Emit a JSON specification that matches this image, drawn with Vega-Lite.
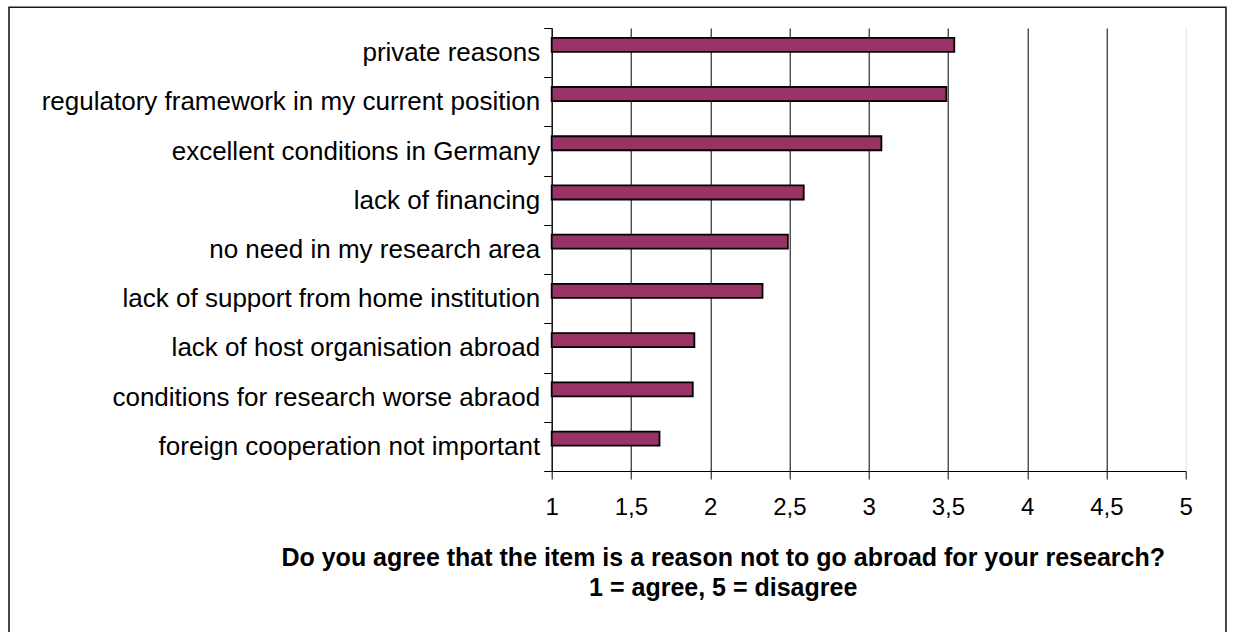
{
  "$schema": "https://vega.github.io/schema/vega-lite/v6.json",
  "autosize": {"type": "none"},
  "width": 634,
  "height": 443,
  "padding": {"left": 551.7, "top": 28, "right": 47.3, "bottom": 161},
  "background": "white",
  "config": {"view": {"stroke": null}, "font": "Liberation Sans"},
  "data": {
    "values": [
      {"item": "private reasons\u00a0", "score": 3.54},
      {"item": "regulatory framework in my current position", "score": 3.49},
      {"item": "excellent conditions in Germany\u00a0", "score": 3.08},
      {"item": "lack of financing", "score": 2.59},
      {"item": "no need in my research area\u00a0", "score": 2.49},
      {"item": "lack of support from home institution", "score": 2.33},
      {"item": "lack of host organisation abroad", "score": 1.9},
      {"item": "conditions for research worse abraod", "score": 1.89},
      {"item": "foreign cooperation not important", "score": 1.68}
    ]
  },
  "layer": [
    {
      "mark": {"type": "bar", "fill": "#993366", "stroke": "#000000", "strokeWidth": 1.8, "height": {"band": 0.285}, "yOffset": -7.8},
      "encoding": {
        "y": {
          "field": "item", "type": "nominal", "sort": null,
          "scale": {"paddingInner": 0, "paddingOuter": 0},
          "axis": {
            "title": null, "grid": false, "domainColor": "#000000", "domainWidth": 1,
            "tickColor": "#000000", "tickSize": 8, "tickBand": "extent",
            "labelFontSize": 26, "labelColor": "#000000", "labelPadding": 4, "labelLimit": 0
          }
        },
        "x": {
          "field": "score", "type": "quantitative",
          "scale": {"domain": [1, 5], "nice": false, "zero": false},
          "axis": {
            "values": [1, 1.5, 2, 2.5, 3, 3.5, 4, 4.5, 5],
            "labelExpr": "replace(toString(datum.value), '.', ',')",
            "grid": true,
            "gridColor": {"condition": {"test": "datum.value == 5", "value": "#e0e0e0"}, "value": "#000000"},
            "gridOpacity": 1, "gridWidth": 1,
            "domainColor": "#000000", "domainWidth": 1,
            "tickColor": "#000000", "tickSize": 8,
            "labelFontSize": 24, "labelColor": "#000000", "labelPadding": 16, "labelFlush": false,
            "title": ["Do you agree that the item is a reason not to go abroad for your research?", "1 = agree, 5 = disagree"],
            "titleFontSize": 25, "titleFontWeight": "bold", "titleColor": "#000000",
            "titleX": 171, "titleY": 94, "titleAlign": "center", "titleAnchor": null,
            "titleBaseline": "alphabetic", "titleLineHeight": 30
          }
        },
        "x2": {"datum": 1}
      }
    },
    {
      "data": {"values": [{}]},
      "mark": {"type": "rect", "filled": false, "stroke": "#1a1a1a", "strokeWidth": 1.6, "clip": false},
      "encoding": {
        "x": {"datum": -2.424, "type": "quantitative", "scale": {"domain": [1, 5], "nice": false, "zero": false}},
        "x2": {"datum": 5.254},
        "y": {"datum": 1.047, "type": "quantitative", "scale": {"domain": [0, 1], "nice": false, "zero": false}, "axis": null},
        "y2": {"datum": -0.42}
      }
    }
  ],
  "resolve": {"scale": {"y": "independent"}, "axis": {"y": "independent"}}
}
